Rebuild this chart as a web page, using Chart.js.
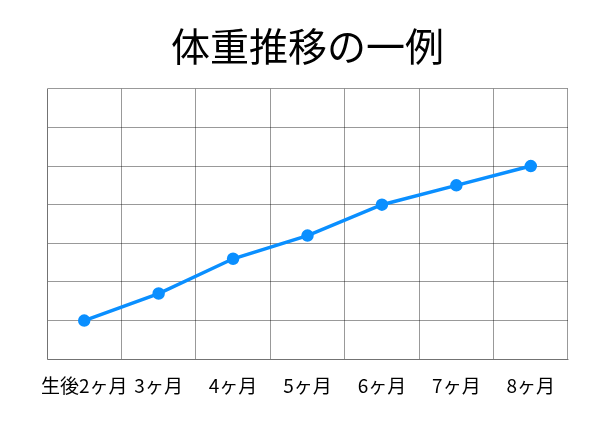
<!DOCTYPE html>
<html>
<head>
<meta charset="utf-8">
<script src="https://cdn.jsdelivr.net/npm/chart.js@4"></script>
<style>
  html, body { margin: 0; padding: 0; background: #fff; }
  #wrap { width: 600px; height: 434px; }
</style>
</head>
<body>
<div id="wrap"><canvas id="weightChart"></canvas></div>
<script>
// chart data
const months = ["生後2ヶ月", "3ヶ月", "4ヶ月", "5ヶ月", "6ヶ月", "7ヶ月", "8ヶ月"];
const weights = [1.0, 1.7, 2.6, 3.2, 4.0, 4.5, 5.0];
const yTicks = [0, 1, 2, 3, 4, 5, 6, 7];

const font = "'Noto Sans CJK JP', 'Noto Sans', sans-serif";

const ctx = document.getElementById("weightChart").getContext("2d");
new Chart(ctx, {
  type: "line",
  data: {
    labels: months,
    datasets: [
      {
        label: "体重",
        data: weights,
        borderColor: "#0a8fff",
        backgroundColor: "#0a8fff",
        borderWidth: 3.5,
        pointRadius: 4.5,
        pointBackgroundColor: "#0a8fff",
        tension: 0,
      },
    ],
  },
  options: {
    responsive: true,
    maintainAspectRatio: false,
    animation: false,
    layout: {
      padding: { top: 23, right: 32, bottom: 22, left: 47 },
    },
    plugins: {
      legend: { display: false },
      tooltip: { enabled: false },
      title: {
        display: true,
        text: "体重推移の一例",
        color: "#000",
        font: { family: font, size: 39, weight: "normal" },
        padding: { top: 0, bottom: 19 },
      },
    },
    scales: {
      x: {
        offset: true,
        grid: { offset: true, color: "rgba(0,0,0,0.4)", drawTicks: false },
        border: { color: "rgba(0,0,0,0.25)" },
        ticks: {
          color: "#000",
          padding: 15,
          maxRotation: 0,
          autoSkip: false,
          font: { family: font, size: 19 },
        },
      },
      y: {
        min: yTicks[0],
        max: yTicks[yTicks.length - 1],
        afterBuildTicks: (axis) => {
          axis.ticks = yTicks.map((v) => ({ value: v }));
        },
        grid: { color: "rgba(0,0,0,0.4)", drawTicks: false },
        border: { color: "rgba(0,0,0,0.25)" },
        ticks: { display: false },
      },
    },
  },
});
</script>
</body>
</html>
